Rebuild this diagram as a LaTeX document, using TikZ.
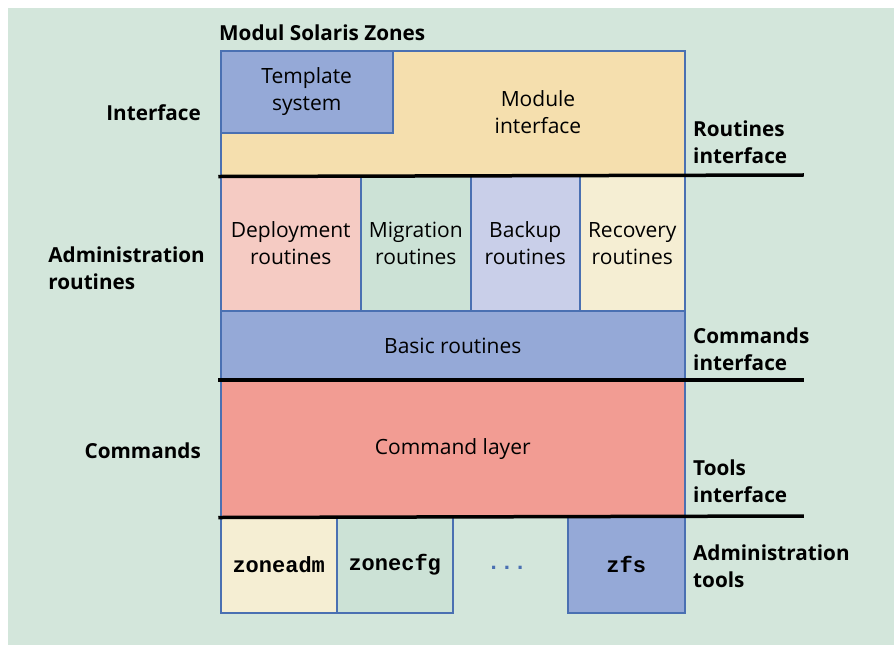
\documentclass[tikz,border=0pt]{standalone}
\usepackage{fontspec}
\setmainfont{Open Sans}
\setmonofont{Liberation Mono}
\usepackage{tikz}
\usetikzlibrary{positioning}

\definecolor{edgeblue}{HTML}{4A70B2}
\definecolor{tplblue}{HTML}{95A9D7}
\definecolor{peach}{HTML}{F5DFAE}
\definecolor{rose}{HTML}{F5CBC3}
\definecolor{mint}{HTML}{CCE2D6}
\definecolor{lilac}{HTML}{C9CFE9}
\definecolor{cream}{HTML}{F5EED3}
\definecolor{salmon}{HTML}{F29C93}
\definecolor{bggreen}{HTML}{D3E6DB}
\definecolor{bggrey}{HTML}{F0F0F0}

\begin{document}
\begin{tikzpicture}[
x=1pt, y=-1pt,
box/.style={
	draw=edgeblue, line width=1.5pt,
	rectangle, anchor=north west,
	inner sep=0pt, align=center,
	font=\fontsize{21}{27}\selectfont
},
txt/.style={align=center, inner sep=0pt, font=\fontsize{21}{27}\selectfont},
tool/.style={box, font=\fontsize{22}{27}\selectfont\ttfamily\bfseries},
lbl/.style={align=left, inner sep=0pt, font=\fontsize{20.7}{27}\selectfont\bfseries},
sep/.style={line width=3.5pt, line cap=rect}
]
\useasboundingbox (0,0) rectangle (894,645);
\fill[left color=bggreen, middle color=bggrey, right color=bggreen] (8,8) rectangle (894,645);

% interface layer
\node[box, fill=peach, minimum width=464pt, minimum height=125pt] (mod) at (220,50) {};
\node[box, fill=tplblue, minimum width=172pt, minimum height=82pt] (tpl) at (220,50) {Template\\system};
\node[txt] (modtxt) at (538,112) {Module\\interface};

% administration routines
\node[box, fill=rose, minimum width=140pt, minimum height=135pt] (dep) at (220,175) {Deployment\\routines};
\node[box, fill=mint, minimum width=110pt, minimum height=135pt] (mig) at (360,175) {Migration\\routines};
\node[box, fill=lilac, minimum width=109pt, minimum height=135pt] (bak) at (470,175) {Backup\\routines};
\node[box, fill=cream, minimum width=105pt, minimum height=135pt] (rec) at (579,175) {Recovery\\routines};
\node[box, fill=tplblue, minimum width=464pt, minimum height=70pt] (basic) at (220,310) {Basic routines};

% commands
\node[box, fill=salmon, minimum width=464pt, minimum height=136pt] (cmd) at (220,380) {Command layer};

% tools
\node[tool, fill=cream, minimum width=116pt, minimum height=96pt] (zadm) at (220,516) {zoneadm};
\node[tool, fill=mint, minimum width=116pt, minimum height=96pt] (zcfg) at (336,516) {zonecfg};
\node[tool, fill=tplblue, minimum width=117pt, minimum height=96pt] (zfs) at (567,516) {zfs};
\node[txt, font=\fontsize{22}{27}\selectfont\ttfamily\bfseries, text=edgeblue] (dots) at (507,568) {...};

% interface lines
\coordinate (e1) at (802,175);
\coordinate (e2) at (802,380);
\coordinate (e3) at (802,516);
\draw[sep] (mod.south west) -- (e1);
\draw[sep] (cmd.north west) -- (e2);
\draw[sep] (cmd.south west) -- (e3);

% labels
\node[lbl, anchor=west] (title) at (219,33) {Modul Solaris Zones};
\node[lbl, anchor=east] (l1) at (201,113) {Interface};
\node[lbl, anchor=east] (l2) at (205,268) {Administration\\routines};
\node[lbl, anchor=east] (l3) at (201,451) {Commands};
\node[lbl, anchor=west] (r1) at (693,142) {Routines\\interface};
\node[lbl, anchor=west] (r2) at (693,349) {Commands\\interface};
\node[lbl, anchor=west] (r3) at (693,481) {Tools\\interface};
\node[lbl, anchor=west] (r4) at (693,566) {Administration\\tools};
\end{tikzpicture}
\end{document}
